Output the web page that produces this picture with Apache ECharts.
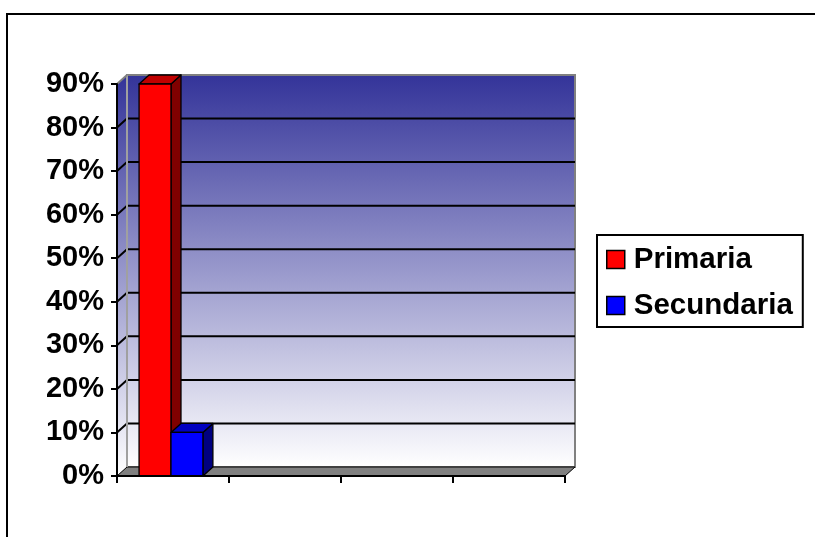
<!DOCTYPE html>
<html>
<head>
<meta charset="utf-8">
<script src="https://cdn.jsdelivr.net/npm/echarts@6/dist/echarts.min.js"></script>
<style>
html,body{margin:0;padding:0;background:#fff;}
#chart{width:815px;height:537px;}
</style>
</head>
<body>
<div id="chart"></div>
<script>
// ---- data ----
const categories = ['1', '2', '3', '4'];
const primaria = [0.9, null, null, null];
const secundaria = [0.1, null, null, null];
const yTicks = [0, 0.1, 0.2, 0.3, 0.4, 0.5, 0.6, 0.7, 0.8, 0.9];
const seriesNames = ['Primaria', 'Secundaria'];

// ---- style ----
const DX = 10, DY = -9;
const FONT = 'Arial, "Liberation Sans", sans-serif';
const faceColors = [
  { front: '#FF0000', side: '#800000', top: '#C00000' },
  { front: '#0000FF', side: '#000080', top: '#0000C0' }
];
const wallGrad = () => new echarts.graphic.LinearGradient(0, 0, 0, 1, [
  { offset: 0, color: '#333399' },
  { offset: 1, color: '#FFFFFF' }
]);

function toPoints(values) {
  return categories.map((c, i) => [i, values[i]]).filter(d => d[1] !== null);
}

function renderWall(params, api) {
  const cs = params.coordSys;
  const x = cs.x, y = cs.y, w = cs.width, h = cs.height;
  const children = [];
  children.push({
    type: 'polygon',
    shape: { points: [[x, y + h], [x, y], [x + DX, y + DY], [x + DX, y + h + DY]] },
    style: { fill: wallGrad(), stroke: null }
  });
  children.push({
    type: 'rect',
    shape: { x: x + DX, y: y + DY, width: w, height: h },
    style: { fill: wallGrad(), stroke: '#808080', lineWidth: 2 }
  });
  children.push({
    type: 'polygon',
    shape: { points: [[x, y + h], [x + w, y + h], [x + w + DX, y + h + DY], [x + DX, y + h + DY]] },
    style: { fill: '#808080', stroke: '#000', lineWidth: 1 }
  });
  yTicks.forEach(v => {
    if (v === 0 || v === yTicks[yTicks.length - 1]) return;
    const py = api.coord([0, v])[1];
    children.push({
      type: 'line',
      shape: { x1: x + DX, y1: py + DY, x2: x + w + DX, y2: py + DY },
      style: { stroke: '#000', lineWidth: 2 }
    });
    children.push({
      type: 'line',
      shape: { x1: x, y1: py, x2: x + DX, y2: py + DY },
      style: { stroke: '#000', lineWidth: 2 }
    });
  });
  children.push({
    type: 'line',
    shape: { x1: x + DX, y1: y + DY, x2: x + DX, y2: y + h + DY },
    style: { stroke: '#A0A0A0', lineWidth: 2 }
  });
  children.push({
    type: 'line',
    shape: { x1: x, y1: y, x2: x + DX, y2: y + DY },
    style: { stroke: '#808080', lineWidth: 2 }
  });
  return { type: 'group', children };
}

function renderBar(params, api) {
  const cat = api.value(0), val = api.value(1);
  const base = api.coord([cat, 0]);
  const top = api.coord([cat, val]);
  const band = api.size([1, 0])[0];
  const bw = band * 0.285;
  const shift = -band * 0.018;
  const x0 = base[0] + shift + (params.seriesIndex === 1 ? -bw : 0);
  const x1 = x0 + bw;
  const yb = base[1], yt = top[1];
  const c = faceColors[params.seriesIndex - 1];
  const st = { stroke: '#000', lineWidth: 1.3, lineJoin: 'round' };
  return {
    type: 'group',
    children: [
      { type: 'polygon', shape: { points: [[x1, yb], [x1, yt], [x1 + DX, yt + DY], [x1 + DX, yb + DY]] },
        style: Object.assign({ fill: c.side }, st) },
      { type: 'polygon', shape: { points: [[x0, yt], [x1, yt], [x1 + DX, yt + DY], [x0 + DX, yt + DY]] },
        style: Object.assign({ fill: c.top }, st) },
      { type: 'rect', shape: { x: x0, y: yt, width: bw, height: yb - yt },
        style: Object.assign({ fill: c.front }, st) }
    ]
  };
}

const chart = echarts.init(document.getElementById('chart'), null, { renderer: 'canvas' });
chart.setOption({
  animation: false,
  backgroundColor: '#fff',
  graphic: [{
    type: 'rect', z: 100, silent: true,
    shape: { x: 7, y: 14, width: 900, height: 700 },
    style: { fill: null, stroke: '#000', lineWidth: 2 }
  }],
  grid: { left: 117, top: 84, width: 448, height: 392 },
  xAxis: {
    type: 'category', data: categories, z: 10,
    axisLine: { show: true, lineStyle: { color: '#000', width: 2 } },
    axisTick: { show: true, length: 7, lineStyle: { color: '#000', width: 2 } },
    axisLabel: { show: false },
    splitLine: { show: false }
  },
  yAxis: {
    type: 'value', min: 0, max: 0.9, interval: 0.1, z: 10,
    axisLine: { show: true, lineStyle: { color: '#000', width: 2 } },
    axisTick: { show: true, length: 6, lineStyle: { color: '#000', width: 2 } },
    axisLabel: {
      margin: 13, color: '#000', fontSize: 29, fontWeight: 'bold', fontFamily: FONT,
      formatter: v => Math.round(v * 100) + '%'
    },
    splitLine: { show: false }
  },
  legend: {
    data: seriesNames,
    orient: 'vertical',
    left: 597, top: 235,
    padding: [9, 10, 6, 9],
    itemGap: 15,
    itemWidth: 18, itemHeight: 18,
    icon: 'rect',
    borderColor: '#000', borderWidth: 2,
    itemStyle: { borderColor: '#000', borderWidth: 1.5 },
    textStyle: { color: '#000', fontSize: 29.5, fontWeight: 'bold', fontFamily: FONT, lineHeight: 31, padding: [0, 0, 0, 4] }
  },
  series: [
    {
      type: 'custom', name: 'wall', coordinateSystem: 'cartesian2d', z: 1, silent: true,
      data: [[0, 0]], renderItem: renderWall
    },
    {
      type: 'custom', name: seriesNames[0], coordinateSystem: 'cartesian2d', z: 3,
      itemStyle: { color: '#FF0000' },
      data: toPoints(primaria), encode: { x: 0, y: 1 }, renderItem: renderBar
    },
    {
      type: 'custom', name: seriesNames[1], coordinateSystem: 'cartesian2d', z: 4,
      itemStyle: { color: '#0000FF' },
      data: toPoints(secundaria), encode: { x: 0, y: 1 }, renderItem: renderBar
    }
  ]
});
</script>
</body>
</html>
